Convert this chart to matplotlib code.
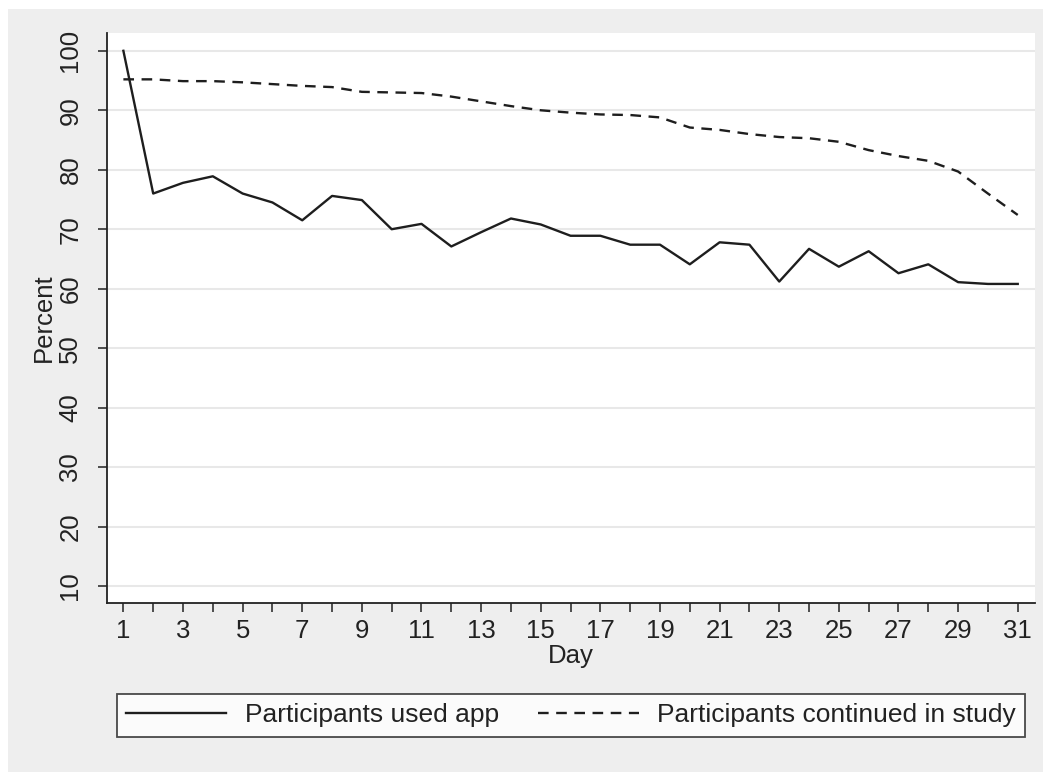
import matplotlib.pyplot as plt
from matplotlib.patches import Rectangle

plt.rcParams['font.family'] = ['Liberation Sans', 'DejaVu Sans']

days = list(range(1, 32))
used_app = [100, 76.0, 77.8, 78.9, 76.0, 74.5, 71.5, 75.6, 74.9, 70.0,
            70.9, 67.1, 69.5, 71.8, 70.8, 68.9, 68.9, 67.4, 67.4, 64.1,
            67.8, 67.4, 61.2, 66.7, 63.7, 66.3, 62.6, 64.1, 61.1, 60.8, 60.8]
continued = [95.2, 95.2, 94.9, 94.9, 94.7, 94.4, 94.1, 93.9, 93.1, 93.0,
             92.9, 92.3, 91.5, 90.7, 90.0, 89.6, 89.3, 89.2, 88.8, 87.1,
             86.7, 86.0, 85.5, 85.3, 84.7, 83.3, 82.3, 81.5, 79.7, 76.0, 72.4]
major_days = list(range(1, 32, 2))
minor_days = list(range(2, 31, 2))
y_ticks = list(range(10, 101, 10))

fig = plt.figure(figsize=(10.46, 7.72), dpi=100)
fig.patch.set_facecolor('white')
# gray outer region like Stata's graph background
fig.patches.append(Rectangle((8 / 1046, 0), 1 - 11 / 1046, 1 - 9 / 772,
                             transform=fig.transFigure, facecolor='#eeeeee',
                             edgecolor='none', zorder=-10))

ax = fig.add_axes([0.102, 0.2193, 0.8875, 0.738])
ax.set_facecolor('white')

line_col = '#1e1e1e'
ax.plot(days, used_app, color=line_col, lw=1.7, label='Participants used app')
ax.plot(days, continued, color=line_col, lw=1.7, ls=(0, (4.5, 3.2)),
        label='Participants continued in study')

ax.set_xlim(0.44, 31.58)
ax.set_ylim(7.2, 103)

ax.set_xticks(major_days)
ax.set_xticks(minor_days, minor=True)
ax.set_yticks(y_ticks)
ax.tick_params(axis='both', which='both', direction='out', length=6.5,
               width=1.1, colors='#222222', labelsize=18.5)
ax.tick_params(axis='x', which='major', pad=5)
ax.tick_params(axis='y', which='major', pad=11)
for lab in ax.get_yticklabels():
    lab.set_rotation(90)
    lab.set_va('center')

ax.grid(axis='y', color='#e8e8e8', lw=1.5)
ax.set_axisbelow(True)

for side in ['top', 'right']:
    ax.spines[side].set_visible(False)
for side in ['left', 'bottom']:
    ax.spines[side].set_color('#222222')
    ax.spines[side].set_linewidth(1.3)

ax.set_xlabel('Day', fontsize=18.5, labelpad=1, color='#222222')
ax.set_ylabel('Percent', fontsize=18.5, labelpad=2, color='#222222')

leg = fig.legend(loc='center', bbox_to_anchor=(0.5457, 0.0732), ncol=2,
                 fontsize=19, frameon=True, fancybox=False, handlelength=3.8,
                 handletextpad=0.7, columnspacing=1.5, borderpad=0.35,
                 borderaxespad=0)
leg.get_frame().set_edgecolor('#1e1e1e')
leg.get_frame().set_linewidth(1.3)
leg.get_frame().set_facecolor('white')
for t in leg.get_texts():
    t.set_color('#222222')

fig.savefig('out.png', dpi=100, facecolor=fig.get_facecolor())
